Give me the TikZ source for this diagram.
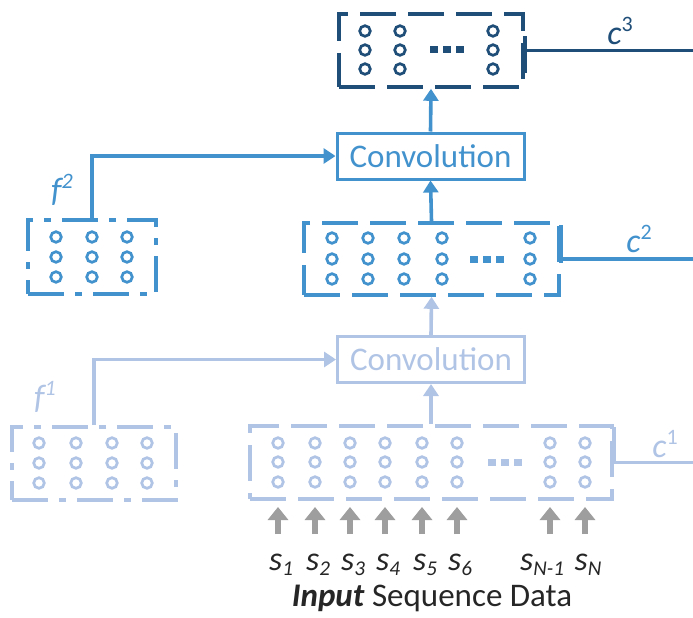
\documentclass[tikz,border=0pt]{standalone}
\usepackage{fontspec}
\setmainfont{Carlito}
\usetikzlibrary{arrows.meta}
\definecolor{navy}{RGB}{31,78,121}
\definecolor{midb}{RGB}{66,146,206}
\definecolor{lightb}{RGB}{176,196,230}
\definecolor{garrow}{RGB}{158,158,158}
\definecolor{txt}{RGB}{38,38,38}
\newcommand{\mysub}[1]{\raisebox{-0.16em}{\fontsize{21}{21}\selectfont #1}}
\newcommand{\mysup}[1]{\raisebox{0.38em}{\fontsize{22}{22}\selectfont #1}}
\begin{document}
\begin{tikzpicture}[x=1pt,y=-1pt,
  lab/.style={font=\fontsize{34}{40}\selectfont, inner sep=0pt},
  cbox/.style={draw, line width=3.6pt, dash pattern=on 36pt off 12pt, inner sep=0pt},
  fbox/.style={draw, line width=3.6pt, dash pattern=on 36pt off 11pt on 7pt off 11pt, inner sep=0pt},
  convbox/.style={draw, line width=3pt, fill=white, inner sep=0pt, minimum width=187pt, minimum height=46pt, font=\fontsize{33}{40}\selectfont},
  circ/.style={line width=2.7pt},
  carr/.style={line width=3.6pt, -{Triangle[width=15pt,length=12pt]}},
  outl/.style={line width=3.6pt},
  garr/.style={draw=garrow, line width=6.5pt, -{Triangle[width=20pt,length=13pt]}}
]
\useasboundingbox (0,0) rectangle (693,618);
\fill[white] (0,0) rectangle (693,618);

% ---------- boxes ----------
\node[cbox, draw=navy, minimum width=184pt, minimum height=73pt] (c3) at (431,50.5) {};
\node[convbox, draw=midb, text=midb] (conv2) at (430.5,156) {Convolution};
\node[fbox, draw=midb, minimum width=128pt, minimum height=74pt] (f2) at (92,257) {};
\node[cbox, draw=midb, minimum width=255pt, minimum height=72pt] (c2) at (431.5,259) {};
\node[convbox, draw=lightb, text=lightb] (conv1) at (431,359.5) {Convolution};
\node[fbox, draw=lightb, minimum width=164pt, minimum height=73pt] (f1) at (94,463.5) {};
\node[cbox, draw=lightb, minimum width=362pt, minimum height=73pt] (c1) at (431,462.5) {};

% ---------- circles ----------
\foreach \x in {365,400,493}{\foreach \y in {31,50,69}{\draw[circ,navy] (\x,\y) circle[radius=5.3pt];}}
\foreach \x in {332,368,404,442,530}{\foreach \y in {238,259,279}{\draw[circ,midb] (\x,\y) circle[radius=5.3pt];}}
\foreach \x in {56,92,127}{\foreach \y in {237,257,277}{\draw[circ,midb] (\x,\y) circle[radius=5.3pt];}}
\foreach \x in {278,315,350,385,422,457,550,585}{\foreach \y in {443,462,482}{\draw[circ,lightb] (\x,\y) circle[radius=5.3pt];}}
\foreach \x in {39,76,112,147}{\foreach \y in {443,463,483}{\draw[circ,lightb] (\x,\y) circle[radius=5.3pt];}}

% ---------- ellipsis squares ----------
\foreach \x in {430,443,456}{\fill[navy] (\x,46) rectangle ++(8,7);}
\foreach \x in {470,483,496}{\fill[midb] (\x,255.5) rectangle ++(8,7);}
\foreach \x in {488,501,514}{\fill[lightb] (\x,458.5) rectangle ++(8,7);}

% ---------- connectors ----------
\draw[carr, midb] (conv2.north) -- (c3.south);
\draw[carr, midb] (c2.north) -- (conv2.south);
\draw[carr, midb] (f2.north) |- (conv2.west);
\draw[carr, lightb] (conv1.north) -- (c2.south);
\draw[carr, lightb] (c1.north) -- (conv1.south);
\draw[carr, lightb] (f1.north) |- (conv1.west);

% ---------- outputs ----------
\coordinate (c3out) at (693,50.5);
\coordinate (c2out) at (693,259);
\coordinate (c1out) at (693,462.5);
\draw[outl, navy] (c3.east) -- (c3out);
\draw[outl, navy] ([yshift=-22pt]c3.east) -- ([yshift=14pt]c3.east);
\draw[outl, midb] (c2.east) -- (c2out);
\draw[outl, midb] ([yshift=-4pt]c2.east) -- ([yshift=34pt]c2.east);
\draw[outl, lightb] (c1.east) -- (c1out);
\draw[outl, lightb] ([yshift=0pt]c1.east) -- ([yshift=36pt]c1.east);

% ---------- labels ----------
\node[lab, text=navy] (c3lab) at (620,31) {\itshape c\upshape\mysup{3}};
\node[lab, text=midb] (c2lab) at (639,239) {\itshape c\upshape\mysup{2}};
\node[lab, text=lightb] (c1lab) at (665,444) {\itshape c\upshape\mysup{1}};
\node[lab, text=midb] (f2lab) at (62,190) {\itshape f\mysup{2}};
\node[lab, text=lightb] (f1lab) at (45,397) {\itshape f\mysup{1}};

% ---------- input ----------
\foreach \x/\n in {278/1,315/2,350/3,385/4,422/5,457/6,550/7,585/8}{
  \coordinate (b\n) at (\x,534);
  \coordinate (t\n) at (\x,507);
  \draw[garr] (b\n) -- (t\n);
}
\node[lab, text=txt] (s1) at (281,565) {\itshape s\mysub{1}};
\node[lab, text=txt] (s2) at (318,565) {\itshape s\mysub{2}};
\node[lab, text=txt] (s3) at (353,565) {\itshape s\mysub{3}};
\node[lab, text=txt] (s4) at (388,565) {\itshape s\mysub{4}};
\node[lab, text=txt] (s5) at (425,565) {\itshape s\mysub{5}};
\node[lab, text=txt] (s6) at (460,565) {\itshape s\mysub{6}};
\node[lab, text=txt] (sn1) at (542,565) {\itshape s\mysub{N-1}};
\node[lab, text=txt] (sn) at (588,565) {\itshape s\mysub{N}};
\node[lab, text=txt, font=\fontsize{33}{40}\selectfont] (inp) at (432,598) {\textbf{\textit{Input}} Sequence Data};
\end{tikzpicture}
\end{document}
